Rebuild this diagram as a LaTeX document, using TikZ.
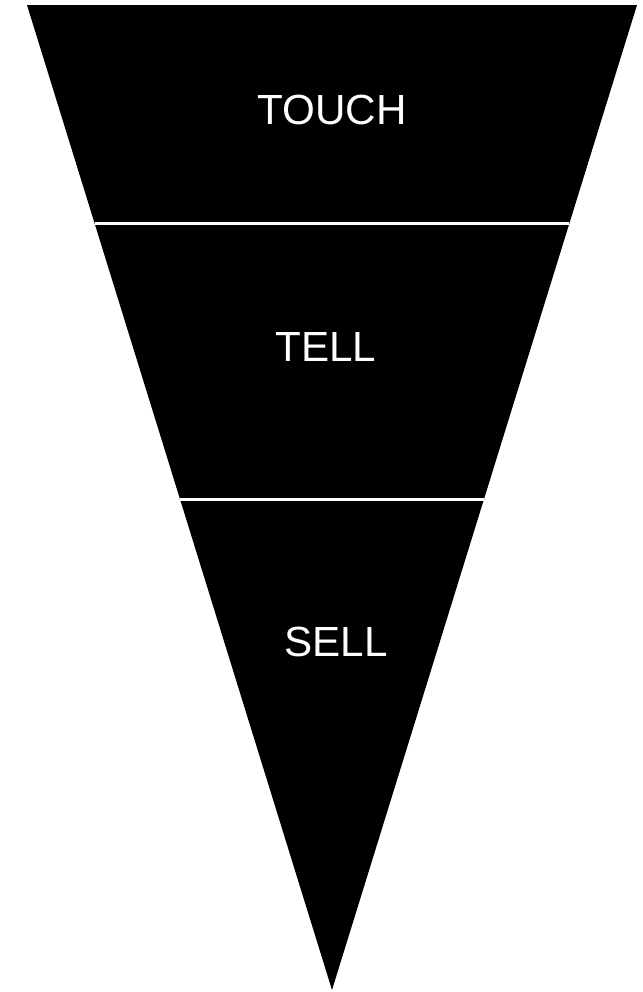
\documentclass[tikz,border=0pt]{standalone}
\usepackage{fontspec}
\setmainfont{Liberation Sans}
\usetikzlibrary{calc}
\tikzset{
  funnel/.style={fill=black,draw=none},
  divline/.style={draw=white,line width=1.7pt},
  stagenode/.style={text=white,font=\fontsize{24}{29}\selectfont,
                    inner sep=0pt,anchor=center}
}
\begin{document}
\begin{tikzpicture}[x=0.02cm,y=-0.02cm]

  \useasboundingbox (0,0) rectangle (643,992);

  \coordinate (tl) at (27,5);
  \coordinate (tr) at (637,5);
  \coordinate (tip) at (332,990);

  \fill[funnel] (tl)--(tr)--(tip)--cycle;

  % dividers between the stages
  \coordinate (d1l) at ($(tl)!0.2223!(tip)$);
  \coordinate (d1r) at ($(tr)!0.2223!(tip)$);
  \coordinate (d2l) at ($(tl)!0.5025!(tip)$);
  \coordinate (d2r) at ($(tr)!0.5025!(tip)$);
  \draw[divline] (d1l)--(d1r);
  \draw[divline] (d2l)--(d2r);

  \node[stagenode] (touch) at (332,110) {TOUCH};
  \node[stagenode] (tell)  at (326,347) {TELL};
  \node[stagenode] (sell)  at (336,642) {SELL};

\end{tikzpicture}
\end{document}
